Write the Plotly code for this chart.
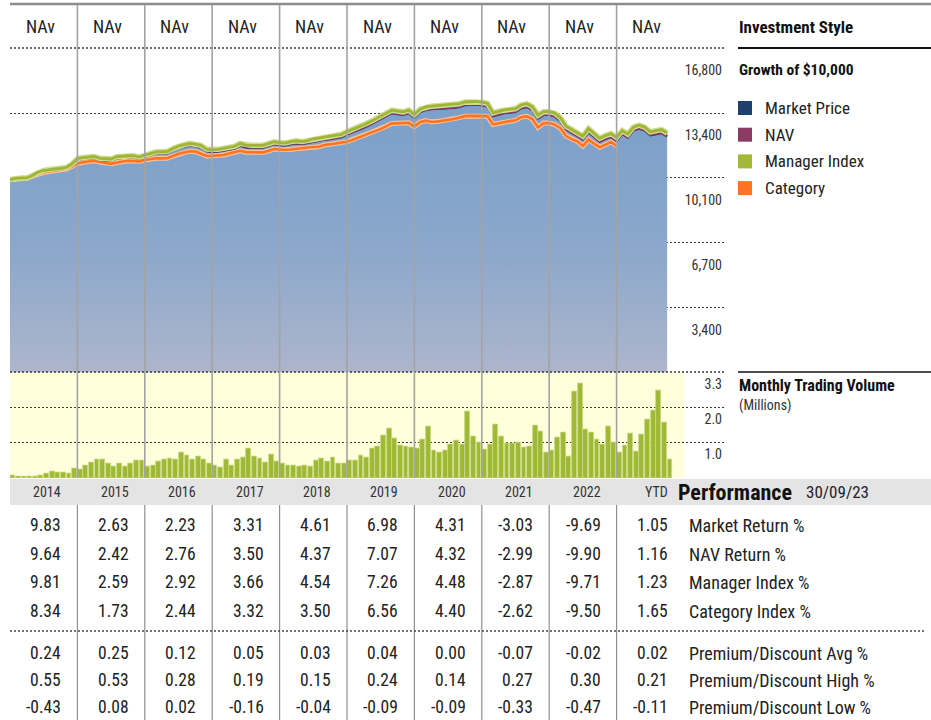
import plotly.graph_objects as go

# ---------------- data ----------------
years = ["2014", "2015", "2016", "2017", "2018", "2019", "2020", "2021", "2022", "YTD"]

manager_index = [10000, 10064, 10080, 10080, 10209, 10390, 10467, 10519, 10545, 10571, 10622, 10803,
                 11088, 11140, 11165, 11191, 11098, 11062, 11062, 11181, 11217, 11232, 11232, 11165,
                 11268, 11356, 11434, 11439, 11449, 11604, 11734, 11811, 11873, 11837, 11770, 11579,
                 11537, 11563, 11615, 11666, 11723, 11873, 11785, 11770, 11770, 11770, 11863, 11956,
                 11915, 11889, 11966, 12008, 11966, 12018, 12111, 12157, 12199, 12225, 12276, 12344,
                 12483, 12587, 12716, 12835, 12974, 13129, 13258, 13439, 13594, 13543, 13507, 13594,
                 13362, 13646, 13760, 13801, 13822, 13837, 13853, 13879, 13930, 14018, 14034, 14044,
                 14008, 13956, 13455, 13543, 13605, 13646, 13672, 13863, 13930, 13775, 13336, 13517,
                 13517, 13439, 13207, 12767, 12602, 12457, 12251, 12638, 12406, 12137, 12276, 12380,
                 12173, 12535, 12354, 12716, 12819, 12716, 12473, 12519, 12587, 12406]

nav = [10000, 10054, 10065, 10060, 10184, 10360, 10437, 10489, 10510, 10536, 10582, 10763,
       11043, 11085, 11105, 11131, 11038, 10997, 10997, 11116, 11147, 11162, 11162, 11095,
       11193, 11281, 11359, 11359, 11369, 11524, 11649, 11726, 11788, 11752, 11680, 11489,
       11447, 11468, 11520, 11571, 11628, 11773, 11685, 11670, 11670, 11670, 11758, 11851,
       11810, 11784, 11856, 11898, 11856, 11908, 11996, 12042, 12084, 12110, 12156, 12224,
       12363, 12467, 12591, 12710, 12849, 13004, 13128, 13309, 13464, 13413, 13377, 13459,
       13227, 13511, 13625, 13666, 13682, 13697, 13713, 13739, 13790, 13878, 13889, 13899,
       13863, 13811, 13310, 13398, 13460, 13496, 13522, 13713, 13780, 13625, 13186, 13367,
       13367, 13289, 13057, 12617, 12452, 12307, 12101, 12483, 12251, 11982, 12121, 12225,
       12018, 12380, 12199, 12561, 12664, 12561, 12318, 12364, 12432, 12251]

market_price = [10000, 10044, 10055, 10050, 10164, 10338, 10414, 10466, 10487, 10512, 10558, 10740,
                11020, 11061, 11080, 11106, 11014, 10972, 10972, 11091, 11122, 11137, 11137, 11070,
                11168, 11256, 11334, 11334, 11344, 11499, 11624, 11701, 11763, 11727, 11655, 11464,
                11422, 11443, 11495, 11546, 11603, 11748, 11660, 11645, 11645, 11645, 11733, 11826,
                11785, 11759, 11831, 11873, 11831, 11883, 11971, 12017, 12059, 12085, 12131, 12199,
                12338, 12442, 12566, 12685, 12824, 12979, 13103, 13284, 13439, 13388, 13352, 13434,
                13202, 13486, 13600, 13641, 13657, 13672, 13688, 13714, 13765, 13853, 13864, 13874,
                13838, 13786, 13285, 13373, 13435, 13471, 13497, 13688, 13755, 13600, 13161, 13342,
                13342, 13264, 13032, 12592, 12427, 12282, 12076, 12458, 12226, 11957, 12096, 12200,
                11993, 12355, 12174, 12536, 12639, 12536, 12293, 12339, 12407, 12226]

category = [10000, 10028, 10038, 10064, 10183, 10286, 10364, 10416, 10452, 10493, 10545, 10674,
            10829, 10891, 10943, 10969, 10907, 10845, 10814, 10880, 10943, 10974, 10958, 10943,
            11010, 11062, 11098, 11098, 11103, 11217, 11330, 11397, 11460, 11449, 11346, 11217,
            11227, 11243, 11268, 11346, 11423, 11491, 11413, 11408, 11408, 11408, 11475, 11579,
            11553, 11527, 11553, 11599, 11620, 11656, 11687, 11697, 11785, 11811, 11863, 11915,
            11961, 12054, 12173, 12302, 12406, 12509, 12612, 12767, 12907, 12907, 12907, 12938,
            12742, 12974, 13052, 12990, 13000, 13041, 13088, 13140, 13207, 13284, 13300, 13300,
            13300, 13284, 12855, 12923, 12974, 13026, 13067, 13233, 13274, 13129, 12700, 12923,
            12923, 12845, 12664, 12251, 12095, 11982, 11734, 12070, 11863, 11666, 11811, 11940,
            11734]

volume = [0.07, 0.05, 0.04, 0.04, 0.05, 0.07, 0.145, 0.21, 0.17, 0.18, 0.145, 0.29,
          0.28, 0.39, 0.48, 0.58, 0.57, 0.45, 0.35, 0.45, 0.37, 0.47, 0.56, 0.56,
          0.37, 0.38, 0.52, 0.59, 0.61, 0.59, 0.79, 0.71, 0.57, 0.66, 0.59, 0.45,
          0.38, 0.34, 0.59, 0.39, 0.59, 0.65, 0.92, 0.67, 0.60, 0.50, 0.73, 0.51,
          0.47, 0.40, 0.38, 0.36, 0.39, 0.35, 0.56, 0.60, 0.51, 0.65, 0.46, 0.46,
          0.54, 0.55, 0.71, 0.64, 0.91, 1.00, 1.34, 1.56, 1.25, 1.01, 0.99, 0.95,
          0.91, 1.22, 1.62, 0.86, 0.79, 0.86, 1.04, 1.18, 1.06, 2.09, 1.31, 1.12,
          0.90, 1.06, 1.68, 1.31, 1.08, 1.09, 1.12, 0.95, 0.98, 1.63, 1.47, 0.81,
          0.86, 1.27, 1.43, 0.67, 2.72, 2.97, 1.52, 1.41, 1.22, 1.05, 1.61, 1.10,
          0.79, 1.02, 1.38, 0.82, 1.35, 1.84, 2.10, 2.74, 1.75, 0.57]

growth_tickvals = [3360, 6720, 10080, 13440, 16800]
growth_ticktext = ["3,400", "6,700", "10,100", "13,400", "16,800"]
volume_tickvals = [1.1, 2.2, 3.3]
volume_ticktext = ["1.0", "2.0", "3.3"]

row_labels = ["Market Return %", "NAV Return %", "Manager Index %", "Category Index %",
              "Premium/Discount Avg %", "Premium/Discount High %", "Premium/Discount Low %"]
market_return = [9.83, 2.63, 2.23, 3.31, 4.61, 6.98, 4.31, -3.03, -9.69, 1.05]
nav_return = [9.64, 2.42, 2.76, 3.50, 4.37, 7.07, 4.32, -2.99, -9.90, 1.16]
manager_return = [9.81, 2.59, 2.92, 3.66, 4.54, 7.26, 4.48, -2.87, -9.71, 1.23]
category_return = [8.34, 1.73, 2.44, 3.32, 3.50, 6.56, 4.40, -2.62, -9.50, 1.65]
pd_avg = [0.24, 0.25, 0.12, 0.05, 0.03, 0.04, 0.00, -0.07, -0.02, 0.02]
pd_high = [0.55, 0.53, 0.28, 0.19, 0.15, 0.24, 0.14, 0.27, 0.30, 0.21]
pd_low = [-0.43, 0.08, 0.02, -0.16, -0.04, -0.09, -0.09, -0.33, -0.47, -0.11]
table_rows = [market_return, nav_return, manager_return, category_return, pd_avg, pd_high, pd_low]

legend_names = ["Market Price", "NAV", "Manager Index", "Category"]
legend_colors = ["#1f3f6d", "#8b3a63", "#a3b936", "#ff7421"]

# ---------------- layout helpers ----------------
W, H = 931, 720
FONT = "Roboto Condensed, DejaVu Sans Condensed, Liberation Sans Narrow, Roboto, sans-serif"
TXT = "#222222"


def px(x):
    return x / W


def py(y):
    return 1 - y / H


MONTHS_PER_YEAR = 12
x_left_px, x_right_px, col_w = 10, 725, 67.4
x_max = (x_right_px - x_left_px) / (col_w / MONTHS_PER_YEAR)

k_line = list(range(len(manager_index)))
k_cat = list(range(len(category)))
k_vol = [i + 0.5 for i in range(len(volume))]

fig = go.Figure()

# growth area
fig.add_trace(go.Scatter(
    x=k_line, y=market_price, mode="lines", line=dict(width=0, color="#7a9fc9"),
    fill="tozeroy",
    fillgradient=dict(type="vertical", start=0, stop=14500,
                      colorscale=[[0, "#adb5cc"], [0.45, "#8ba7cb"], [1, "#799fc9"]]),
    hoverinfo="skip", showlegend=False))

# category
fig.add_trace(go.Scatter(x=k_cat, y=category, mode="lines",
                         line=dict(color="#ffbf95", width=5), hoverinfo="skip", showlegend=False))
fig.add_trace(go.Scatter(x=k_cat, y=category, mode="lines", name="Category",
                         line=dict(color="#ff7421", width=2.6), showlegend=False))
# market price
fig.add_trace(go.Scatter(x=k_line, y=market_price, mode="lines", name="Market Price",
                         line=dict(color="#23406d", width=2.2), showlegend=False))
# nav
fig.add_trace(go.Scatter(x=k_line, y=nav, mode="lines", name="NAV",
                         line=dict(color="#8a3a64", width=2.6), showlegend=False))
# manager index
fig.add_trace(go.Scatter(x=k_line, y=manager_index, mode="lines",
                         line=dict(color="#cfdc95", width=5.5), hoverinfo="skip", showlegend=False))
fig.add_trace(go.Scatter(x=k_line, y=manager_index, mode="lines", name="Manager Index",
                         line=dict(color="#9fb533", width=2.8), showlegend=False))

# volume
fig.add_trace(go.Bar(x=k_vol, y=volume, yaxis="y2", width=0.86,
                     marker=dict(color="#a0b935", line=dict(color="#cad98a", width=0.8)),
                     showlegend=False))

shapes = []
annotations = []

# top border
shapes.append(dict(type="line", xref="paper", yref="paper", x0=px(10), x1=1, y0=py(4), y1=py(4),
                   line=dict(color="#8c8c8c", width=2.5)))
# volume yellow background
shapes.append(dict(type="rect", xref="x", yref="paper", x0=0, x1=120, y0=py(478), y1=py(372.5),
                   fillcolor="#ffffdb", line=dict(width=0), layer="below"))
# performance header band
shapes.append(dict(type="rect", xref="paper", yref="paper", x0=px(10), x1=1, y0=py(505), y1=py(479),
                   fillcolor="#e4e4e4", line=dict(width=0), layer="below"))
# top gridlines of both panels
for yy in (48, 372):
    shapes.append(dict(type="line", xref="paper", yref="paper", x0=px(10), x1=px(725), y0=py(yy), y1=py(yy),
                       line=dict(color="#3a3a3a", width=1.4, dash="2px,2px"), layer="above"))
# column separators
for j in range(1, 10):
    xj = 12 * j
    shapes.append(dict(type="line", xref="x", yref="paper", x0=xj, x1=xj, y0=py(478), y1=py(5),
                       line=dict(color="#a3a3a3", width=1.6), layer="above"))
    shapes.append(dict(type="line", xref="x", yref="paper", x0=xj, x1=xj, y0=py(720), y1=py(505),
                       line=dict(color="#8f8f8f", width=1.2), layer="above"))
# table dotted separator
shapes.append(dict(type="line", xref="paper", yref="paper", x0=px(10), x1=px(926), y0=py(631), y1=py(631),
                   line=dict(color="#444444", width=1.3, dash="2px,2px")))
# right-panel rules
shapes.append(dict(type="line", xref="paper", yref="paper", x0=px(738), x1=1, y0=py(48), y1=py(48),
                   line=dict(color="#111111", width=2)))
shapes.append(dict(type="line", xref="paper", yref="paper", x0=px(738), x1=1, y0=py(372), y1=py(372),
                   line=dict(color="#111111", width=1.6)))

# NAv header
for j in range(10):
    annotations.append(dict(xref="x", yref="paper", x=12 * j + 5.35, y=py(27), text="NAv",
                            showarrow=False, xanchor="center", yanchor="middle",
                            font=dict(family=FONT, size=18, color=TXT)))

# right panel text
annotations.append(dict(xref="paper", yref="paper", x=px(737), y=py(27), text="<b>Investment Style</b>",
                        showarrow=False, xanchor="left", yanchor="middle",
                        font=dict(family=FONT, size=17, color="#111111")))
annotations.append(dict(xref="paper", yref="paper", x=px(737), y=py(70), text="<b>Growth of $10,000</b>",
                        showarrow=False, xanchor="left", yanchor="middle",
                        font=dict(family=FONT, size=15.5, color="#111111")))
for i, (name, col) in enumerate(zip(legend_names, legend_colors)):
    yc = 108 + i * 26.7
    shapes.append(dict(type="rect", xref="paper", yref="paper", x0=px(738), x1=px(752),
                       y0=py(yc + 7), y1=py(yc - 7), fillcolor=col, line=dict(width=0)))
    annotations.append(dict(xref="paper", yref="paper", x=px(763), y=py(yc), text=name,
                            showarrow=False, xanchor="left", yanchor="middle",
                            font=dict(family=FONT, size=17, color=TXT)))
annotations.append(dict(xref="paper", yref="paper", x=px(737), y=py(385), text="<b>Monthly Trading Volume</b>",
                        showarrow=False, xanchor="left", yanchor="middle",
                        font=dict(family=FONT, size=16, color="#111111")))
annotations.append(dict(xref="paper", yref="paper", x=px(737), y=py(405), text="(Millions)",
                        showarrow=False, xanchor="left", yanchor="middle",
                        font=dict(family=FONT, size=14, color="#333333")))

# performance table
for j, yr in enumerate(years):
    annotations.append(dict(xref="x", yref="paper", x=12 * j + 9.5, y=py(492), text=yr,
                            showarrow=False, xanchor="right", yanchor="middle",
                            font=dict(family=FONT, size=14, color="#333333")))
annotations.append(dict(xref="paper", yref="paper", x=px(676), y=py(492), text="<b>Performance</b>",
                        showarrow=False, xanchor="left", yanchor="middle",
                        font=dict(family=FONT, size=22, color="#111111")))
annotations.append(dict(xref="paper", yref="paper", x=px(804), y=py(492), text="30/09/23",
                        showarrow=False, xanchor="left", yanchor="middle",
                        font=dict(family=FONT, size=17, color=TXT)))

row_y = [525, 554, 582, 611, 653, 680, 707]
for r, (vals, lab, yy) in enumerate(zip(table_rows, row_labels, row_y)):
    for j, v in enumerate(vals):
        annotations.append(dict(xref="x", yref="paper", x=12 * j + 9.5, y=py(yy), text=f"{v:.2f}",
                                showarrow=False, xanchor="right", yanchor="middle",
                                font=dict(family=FONT, size=17.5, color=TXT)))
    annotations.append(dict(xref="paper", yref="paper", x=px(687), y=py(yy), text=lab,
                            showarrow=False, xanchor="left", yanchor="middle",
                            font=dict(family=FONT, size=18, color=TXT)))

grid_style = dict(showgrid=True, gridcolor="#3a3a3a", gridwidth=1.4, griddash="2px,2px",
                  zeroline=False, showline=False, ticks="", side="right",
                  ticklabelposition="inside", tickfont=dict(family=FONT, size=14, color="#333333"))

fig.update_layout(
    width=W, height=H, margin=dict(l=0, r=0, t=0, b=0),
    paper_bgcolor="white", plot_bgcolor="rgba(0,0,0,0)",
    showlegend=False, bargap=0,
    xaxis=dict(domain=[px(x_left_px), px(x_right_px)], range=[0, x_max], showgrid=False,
               zeroline=False, showticklabels=False, showline=False, anchor="y2"),
    yaxis=dict(domain=[py(372.5), py(48)], range=[0, 16815], tickvals=growth_tickvals,
               ticktext=growth_ticktext, ticklabelshift=22, anchor="x", **grid_style),
    yaxis2=dict(domain=[py(478), py(372.5)], range=[0, 3.305], tickvals=volume_tickvals,
                ticktext=volume_ticktext, ticklabelshift=11, anchor="x", **grid_style),
    shapes=shapes, annotations=annotations,
    font=dict(family=FONT, color=TXT),
)

fig.write_html("out.html", config={"displayModeBar": False},
               post_script="document.body.style.margin='0px';document.body.style.overflow='hidden';")
